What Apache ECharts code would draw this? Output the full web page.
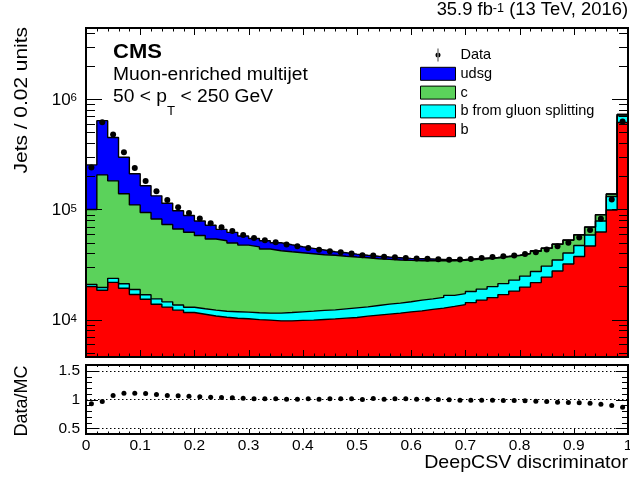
<!DOCTYPE html>
<html><head><meta charset="utf-8">
<script src="https://cdn.jsdelivr.net/npm/echarts@6/dist/echarts.min.js"></script>
<style>html,body{margin:0;padding:0;background:#fff}#c{width:630px;height:477px}</style>
</head><body><div id="c"></div>
<script>
// ---- data ----
const binEdges = [0,0.02,0.04,0.06,0.08,0.10,0.12,0.14,0.16,0.18,0.20,0.22,0.24,0.26,0.28,0.30,0.32,0.34,0.36,0.38,0.40,0.42,0.44,0.46,0.48,0.50,0.52,0.54,0.56,0.58,0.60,0.62,0.64,0.66,0.68,0.70,0.72,0.74,0.76,0.78,0.80,0.82,0.84,0.86,0.88,0.90,0.92,0.94,0.96,0.98,1.00];
const bJets = [20000,18500,21800,19300,16900,15300,13800,13000,12200,11600,11200,10800,10500,10300,10200,10000,9900,9750,9750,9840,9890,10040,10170,10320,10470,10760,10990,11220,11460,11770,12020,12380,12730,13180,13690,14280,15040,15850,16880,18160,19740,21690,24330,27600,31980,37410,46560,62400,98900,615000];
const bGluonSplit = [900,1100,1900,1900,1900,1500,1650,1500,1400,1350,1350,1400,1400,1500,1500,1550,1550,1710,1860,1930,2050,2090,2100,2210,2320,2300,2460,2610,2670,2750,3020,3070,3190,3420,3550,3700,3900,4100,4370,4700,5110,5620,6300,7150,8280,9690,12060,16160,32300,93000];
const cJets = [79100,186400,158300,117800,91200,77200,66500,58500,52900,49100,45500,41800,40100,37800,35800,34200,32300,30710,29690,28690,27690,26690,26100,25050,24190,23420,22280,21410,20620,19990,19240,18830,18360,17680,17400,17200,16800,16330,15910,15290,14760,14510,13710,13480,12300,11660,10480,10960,6900,19600];
const udsgJets = [154000,434000,268000,159000,101000,70000,51000,41000,31000,26000,20600,18000,14000,12400,10000,8800,8300,7720,6560,5460,4750,4030,2930,2880,2390,1890,1850,1740,1730,1460,1450,1200,960,710,600,550,500,450,420,400,380,350,330,300,280,260,240,220,200,300];
const dataJets = [240000,620000,480000,330000,238000,181000,146000,122000,105000,93000,83000,75000,69000,63800,58800,55000,52600,50500,48200,46300,44700,43100,41700,40900,39800,38400,38200,37200,36900,36200,35900,35700,35300,35000,35100,35600,36200,37000,37700,38300,39400,41000,43300,46300,50000,55600,65000,82500,123000,630000];
const ratioDataMC = [0.924,0.965,1.07,1.11,1.11,1.105,1.088,1.07,1.064,1.058,1.047,1.041,1.035,1.03,1.023,1.012,1.012,1.012,1.006,1.006,1.012,1.006,1.012,1.012,1.012,1.0,1.018,1.006,1.012,1.012,1.006,1.006,1.0,0.994,0.988,0.988,0.988,0.988,0.982,0.982,0.977,0.971,0.965,0.953,0.947,0.942,0.936,0.918,0.895,0.865];
const yMajorTicks = [1e4,1e5,1e6];
const yMinorTicks = [5000,6000,7000,8000,9000,20000,30000,40000,50000,60000,70000,80000,90000,200000,300000,400000,500000,600000,700000,800000,900000,2000000,3000000,4000000];
const ratioMajorTicks = [0.5,1,1.5];
const ratioMinorTicks = [0.6,0.7,0.8,0.9,1.1,1.2,1.3,1.4];
const Y_MIN = 4580, Y_MAX = 4.44e6;

// ---- build ----
const FONT = 'Liberation Sans, Arial, Helvetica, sans-serif';
const black = '#000';
const n = bJets.length;
const cumB = [], cumBG = [], cumC = [], cumAll = [];
for (let i = 0; i < n; i++) {
  cumB.push(bJets[i]);
  cumBG.push(bJets[i] + bGluonSplit[i]);
  cumC.push(bJets[i] + bGluonSplit[i] + cJets[i]);
  cumAll.push(bJets[i] + bGluonSplit[i] + cJets[i] + udsgJets[i]);
}
const centers = [];
for (let i = 0; i < n; i++) centers.push((binEdges[i] + binEdges[i + 1]) / 2);
function stepData(cum) {
  const d = cum.map((v, i) => [binEdges[i], v]);
  d.push([binEdges[n], cum[n - 1]]);
  return d;
}
function areaSeries(name, color, cum) {
  return {
    name, type: 'line', xAxisIndex: 0, yAxisIndex: 0, step: 'end',
    data: stepData(cum), symbol: 'none', showSymbol: false, color: color,
    lineStyle: { color: '#000', width: 1.4 },
    areaStyle: { color: color, opacity: 1, origin: 'start' },
    silent: true, animation: false, z: 2
  };
}
// tick/frame rows: [x, y, kind, side]
// kind 0 = x major, 1 = x minor, 2 = y major, 3 = y minor, 4 = frame ; side 0 = bottom/left, 1 = top/right
function isMajorX(v) { return Math.abs(v * 10 - Math.round(v * 10)) < 1e-6; }
function tickRows(yRef, yMaj, yMin) {
  const rows = [];
  [0, 1].forEach(s => {
    binEdges.forEach(e => rows.push([e, yRef, isMajorX(e) ? 0 : 1, s]));
    yMaj.forEach(v => rows.push([0.5, v, 2, s]));
    yMin.forEach(v => rows.push([0.5, v, 3, s]));
  });
  rows.push([0.5, yRef, 4, 0]);
  return rows;
}
function tickSeries(xi, yi, rows, L) {
  return {
    type: 'custom', xAxisIndex: xi, yAxisIndex: yi, data: rows, silent: true, clip: false,
    zlevel: 1, z: 7, animation: false,
    encode: { x: 0, y: 1 },
    renderItem: function (params, api) {
      const cs = params.coordSys;
      const kind = api.value(2);
      const side = api.value(3);
      const p = api.coord([api.value(0), api.value(1)]);
      const top = cs.y, bot = cs.y + cs.height, left = cs.x, right = cs.x + cs.width;
      if (kind === 4) {
        return { type: 'rect', shape: { x: left, y: top, width: cs.width, height: cs.height }, style: { fill: 'none', stroke: black, lineWidth: 2 } };
      }
      let x1, y1, x2, y2;
      if (kind === 0 || kind === 1) {
        const x = Math.round(p[0]) + 0.5;
        if (side === 0) { const l = kind === 0 ? L.xb[0] : L.xb[1]; x1 = x; x2 = x; y1 = bot; y2 = bot - l; }
        else { const l = kind === 0 ? L.xt[0] : L.xt[1]; x1 = x; x2 = x; y1 = top; y2 = top + l; }
      } else {
        const y = Math.round(p[1]) + 0.5;
        const l = kind === 2 ? L.y[0] : L.y[1];
        if (side === 0) { x1 = left; x2 = left + l; } else { x1 = right; x2 = right - l; }
        y1 = y; y2 = y;
      }
      return { type: 'line', shape: { x1: x1, y1: y1, x2: x2, y2: y2 }, style: { stroke: black, lineWidth: 1 } };
    }
  };
}

const chart = echarts.init(document.getElementById('c'), null, { renderer: 'canvas' });
chart.setOption({
  animation: false,
  backgroundColor: '#fff',
  grid: [
    { left: 86, right: 2, top: 28, height: 329, containLabel: false, outerBoundsMode: 'none' },
    { left: 86, right: 2, top: 365, height: 69, containLabel: false, outerBoundsMode: 'none' }
  ],
  xAxis: [
    { gridIndex: 0, type: 'value', min: 0, max: 1, interval: 0.1, position: 'bottom',
      axisLine: { show: false }, axisTick: { show: false }, splitLine: { show: false }, axisLabel: { show: false } },
    { gridIndex: 1, type: 'value', min: 0, max: 1, interval: 0.1, position: 'bottom',
      axisLine: { show: false }, axisTick: { show: false }, splitLine: { show: false },
      axisLabel: { show: true, margin: 4, color: black, fontFamily: FONT, fontSize: 15.5, showMinLabel: true, showMaxLabel: true,
        formatter: v => String(+(+v).toFixed(1)) } }
  ],
  yAxis: [
    { gridIndex: 0, type: 'log', logBase: 10, min: Y_MIN, max: Y_MAX, position: 'left',
      axisLine: { show: false }, axisTick: { show: false }, splitLine: { show: false }, minorTick: { show: false },
      axisLabel: {
        show: true, customValues: yMajorTicks, margin: 9,
        formatter: v => { const l = Math.log10(v); const e = Math.round(l); if (Math.abs(l - e) > 0.01) return ''; return '{b|10}{e|' + e + '}'; },
        rich: {
          b: { fontSize: 17, fontFamily: FONT, color: black, lineHeight: 18, padding: [6, 0, 0, 0], verticalAlign: 'bottom' },
          e: { fontSize: 11.5, fontFamily: FONT, color: black, lineHeight: 12, padding: [2, 0, 0, 0], verticalAlign: 'top' }
        }
      } },
    { gridIndex: 1, type: 'value', min: 0.4, max: 1.6, interval: 0.1, position: 'left',
      axisLine: { show: false }, axisTick: { show: false }, splitLine: { show: false },
      axisLabel: { show: true, customValues: ratioMajorTicks, margin: 6, color: black, fontFamily: FONT, fontSize: 15.5,
        formatter: v => String(+(+v).toFixed(1)) } }
  ],
  legend: {
    orient: 'vertical', left: 420, top: 47.5, padding: 0, z: 10,
    itemWidth: 35, itemHeight: 13, itemGap: 3.8, itemTextGap: 7, selectedMode: false,
    textStyle: { fontFamily: FONT, fontSize: 14.5, color: black, lineHeight: 13 },
    itemStyle: { borderColor: '#000', borderWidth: 1 },
    data: [
      { name: 'Data', icon: 'path://M2.6,0H3.4V14H2.6Z M0.3,7A2.7,2.7 0 1,0 5.7,7A2.7,2.7 0 1,0 0.3,7Z', itemStyle: { color: '#000', borderWidth: 0, opacity: 1 } },
      { name: 'udsg', icon: 'rect' },
      { name: 'c', icon: 'rect' },
      { name: 'b from gluon splitting', icon: 'rect' },
      { name: 'b', icon: 'rect' }
    ]
  },
  series: [
    areaSeries('udsg', '#0000ff', cumAll),
    areaSeries('c', '#5bd25b', cumC),
    areaSeries('b from gluon splitting', '#00ffff', cumBG),
    areaSeries('b', '#ff0000', cumB),
    tickSeries(0, 0, tickRows(1e5, yMajorTicks, yMinorTicks), { xb: [7, 3.5], xt: [7, 3.5], y: [16, 9] }),
    tickSeries(1, 1, tickRows(1, ratioMajorTicks, ratioMinorTicks), { xb: [5, 2.5], xt: [4, 2], y: [12, 6] }),
    {
      name: 'Data', type: 'scatter', xAxisIndex: 0, yAxisIndex: 0,
      data: centers.map((x, i) => [x, dataJets[i]]),
      symbol: 'circle', symbolSize: 6, itemStyle: { color: '#000', opacity: 1 }, silent: true, z: 9
    },
    {
      name: 'ratio', type: 'scatter', xAxisIndex: 1, yAxisIndex: 1,
      data: centers.map((x, i) => [x, ratioDataMC[i]]),
      symbol: 'circle', symbolSize: 5, itemStyle: { color: '#000', opacity: 1 }, silent: true, z: 9,
      markLine: {
        silent: true, symbol: ['none', 'none'], animation: false,
        label: { show: false },
        lineStyle: { color: '#000', type: [1.5, 2.5], width: 1, opacity: 1 },
        data: ratioMajorTicks.map(v => ({ yAxis: v }))
      }
    }
  ],
  graphic: [
    { type: 'text', x: 628, y: -0.5, scaleX: 1.05, style: {
        text: '{m|35.9 fb}{s|-1}{m| (13 TeV, 2016)}', fill: black, align: 'right', verticalAlign: 'top',
        rich: {
          m: { fontSize: 17.5, fontFamily: FONT, fill: black, lineHeight: 20, padding: [5, 0, 0, 0], verticalAlign: 'bottom' },
          s: { fontSize: 12, fontFamily: FONT, fill: black, lineHeight: 12, padding: [3, 0, 0, 0], verticalAlign: 'top' }
        } } },
    { type: 'text', x: 113, y: 52, scaleX: 1.1, style: { text: 'CMS', fontSize: 20, fontWeight: 'bold', fontFamily: FONT, fill: black, verticalAlign: 'middle' } },
    { type: 'text', x: 113, y: 75.5, scaleX: 1.1, style: { text: 'Muon-enriched multijet', fontSize: 17.5, fontFamily: FONT, fill: black, verticalAlign: 'middle' } },
    { type: 'text', x: 113, y: 88.5, scaleX: 1.1, style: {
        text: '{m|50 < p}{t|T}{m| < 250 GeV}', verticalAlign: 'top',
        rich: {
          m: { fontSize: 17.5, fontFamily: FONT, fill: black, lineHeight: 20, verticalAlign: 'top' },
          t: { fontSize: 12, fontFamily: FONT, fill: black, lineHeight: 12, padding: [17, 0, 0, 0], verticalAlign: 'top' }
        } } },
    { type: 'text', x: 22, y: 27, rotation: Math.PI / 2, scaleX: 1.1, style: { text: 'Jets / 0.02 units', fontSize: 19, fontFamily: FONT, fill: black, align: 'right', verticalAlign: 'middle' } },
    { type: 'text', x: 22, y: 401, rotation: Math.PI / 2, style: { text: 'Data/MC', fontSize: 18, fontFamily: FONT, fill: black, align: 'center', verticalAlign: 'middle' } },
    { type: 'text', x: 628, y: 462.5, scaleX: 1.06, style: { text: 'DeepCSV discriminator', fontSize: 18.5, fontFamily: FONT, fill: black, align: 'right', verticalAlign: 'middle' } }
  ]
});
</script>
</body></html>
